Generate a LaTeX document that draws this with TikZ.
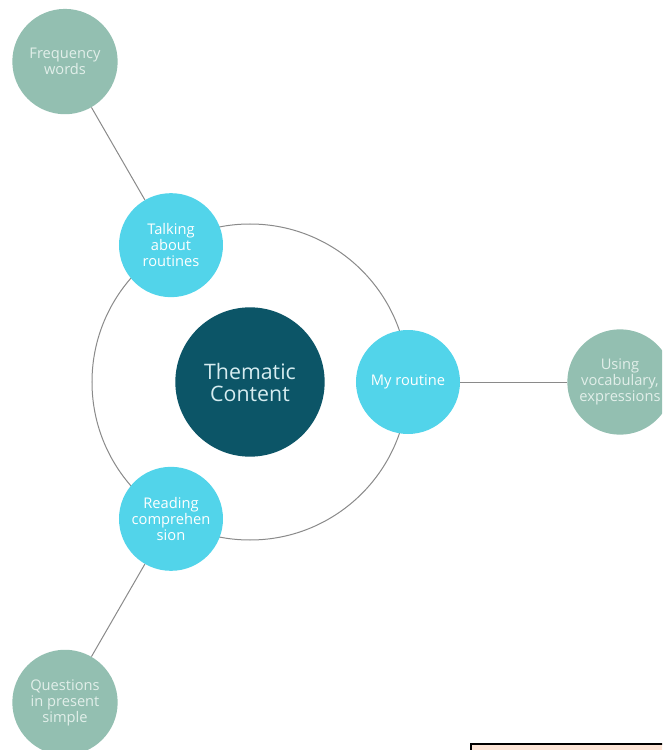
\documentclass[tikz,border=0pt]{standalone}
\usepackage{fontspec}
\setmainfont[Ligatures=NoCommon]{Open Sans}
\definecolor{hubteal}{HTML}{0C5567}
\definecolor{hubtext}{HTML}{D6ECF0}
\definecolor{topiccyan}{HTML}{52D4EA}
\definecolor{detailsage}{HTML}{93BFB1}
\definecolor{detailtext}{HTML}{E2EFEA}
\definecolor{linegray}{HTML}{8A8A8A}
\definecolor{notefill}{HTML}{FCE4D6}

\begin{document}
\begin{tikzpicture}[x=0.75pt, y=0.75pt,
  every node/.style = {shape=circle, align=center, inner sep=0pt,
    font=\fontsize{11}{12}\selectfont},
  hub/.style = {fill=hubteal, text=hubtext, minimum size=112pt,
    font=\fontsize{16}{16.5}\selectfont},
  topic/.style = {fill=topiccyan, text=white, minimum size=78pt},
  detail/.style = {fill=detailsage, text=detailtext, minimum size=79pt},
  link/.style = {draw=linegray, line width=0.75pt}]
  \useasboundingbox (-250,-368) rectangle (412,382);
  \clip (-250,-368) rectangle (412,382);

  % ring through the topics
  \draw[link] (0,0) circle (158);

  \node[hub] (thematic) at (0,0) {Thematic\\Content};
  \node[topic] (talking) at (120:158) {Talking\\about\\routines};
  \node[topic] (myroutine) at (0:158) {My routine};
  \node[topic] (reading) at (240:158) {Reading\\comprehen\\sion};

  \node[detail] (frequency) at (120:370) {Frequency\\words};
  \node[detail] (vocabulary) at (0:370) {Using\\vocabulary,\\expressions};
  \node[detail] (questions) at (240:370) {Questions\\in present\\simple};

  \draw[link] (frequency) -- (talking);
  \draw[link] (myroutine) -- (vocabulary);
  \draw[link] (reading) -- (questions);

  % box at the lower edge
  \draw[fill=notefill, line width=1.5pt] (221,-362) rectangle (430,-400);
\end{tikzpicture}
\end{document}
